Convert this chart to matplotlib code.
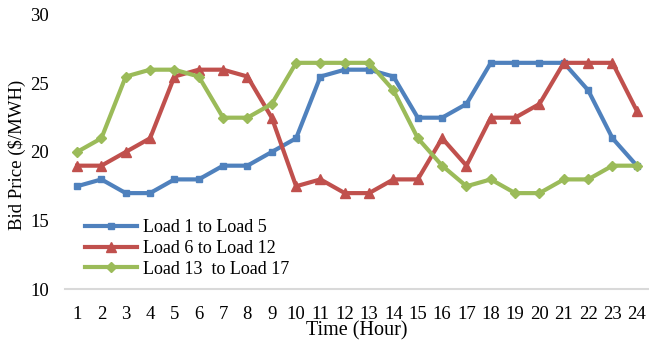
import matplotlib
matplotlib.use("Agg")
import matplotlib.pyplot as plt

# hourly bid prices
hours = list(range(1, 25))
load_1_5 = [17.5, 18, 17, 17, 18, 18, 19, 19, 20, 21, 25.5, 26,
            26, 25.5, 22.5, 22.5, 23.5, 26.5, 26.5, 26.5, 26.5, 24.5, 21, 19]
load_6_12 = [19, 19, 20, 21, 25.5, 26, 26, 25.5, 22.5, 17.5, 18, 17,
             17, 18, 18, 21, 19, 22.5, 22.5, 23.5, 26.5, 26.5, 26.5, 23]
load_13_17 = [20, 21, 25.5, 26, 26, 25.5, 22.5, 22.5, 23.5, 26.5, 26.5, 26.5,
              26.5, 24.5, 21, 19, 17.5, 18, 17, 17, 18, 18, 19, 19]
labels = ["Load 1 to Load 5", "Load 6 to Load 12", "Load 13  to Load 17"]

plt.rcParams["font.family"] = ["Liberation Serif", "DejaVu Serif"]

fig = plt.figure(figsize=(6.49, 3.45), dpi=100)
ax = fig.add_axes([0.1, 0.162, 0.9, 0.795])

ax.plot(hours, load_1_5, color="#4F81BD", lw=3, marker="s", ms=5, label=labels[0])
ax.plot(hours, load_6_12, color="#C0504D", lw=3, marker="^", ms=7, label=labels[1])
ax.plot(hours, load_13_17, color="#9BBB59", lw=3, marker="D", ms=5, label=labels[2])

ax.set_xlim(0.5, 24.5)
ax.set_ylim(10, 30)
ax.set_xticks(hours)
ax.set_yticks([10, 15, 20, 25, 30])
ax.tick_params(length=0, labelsize=13.5)
ax.tick_params(axis="x", pad=12)
ax.tick_params(axis="y", pad=11.5)
for s in ["top", "right", "left"]:
    ax.spines[s].set_visible(False)
ax.spines["bottom"].set_color("#D9D9D9")
ax.spines["bottom"].set_linewidth(1.5)

ax.set_xlabel("Time (Hour)", fontsize=14.5, labelpad=-1)
ax.set_ylabel("Bid Price ($/MWH)", fontsize=13.5)
ax.yaxis.set_label_coords(-0.066, 0.49)

ax.legend(loc="center left", bbox_to_anchor=(0.034, 0.148), frameon=False,
          fontsize=13, handlelength=2.9, handletextpad=0.3, labelspacing=0.2,
          borderpad=0, borderaxespad=0)

fig.savefig("out.png", dpi=100)
